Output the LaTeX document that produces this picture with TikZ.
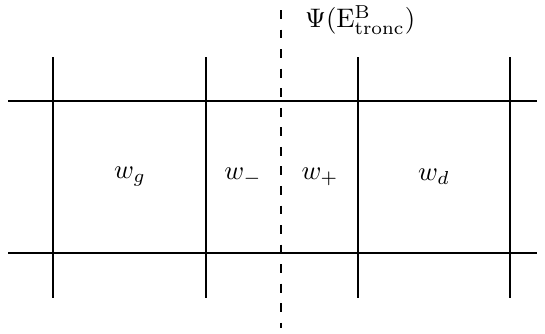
\documentclass[tikz,border=0pt]{standalone}
\usepackage{amsmath,amssymb}
\usepackage{tikz}
\usetikzlibrary{positioning}
\tikzset{
  grille/.style={line width=0.6pt},
  interface/.style={line width=0.7pt, dash pattern=on 3.3pt off 4pt},
  lbl/.style={font=\normalsize, inner sep=1pt}
}

\begin{document}
\begin{tikzpicture}[x=0.013115cm, y=-0.013115cm]
  \useasboundingbox (0,0) rectangle (545,333);

  % horizontal lines
  \draw[grille] (8,101) -- (537,101);
  \draw[grille] (8,253) -- (537,253);

  % vertical lines
  \foreach \xx in {53,206,358,510}
    \draw[grille] (\xx,57) -- (\xx,298);

  % interface
  \coordinate (haut) at (281,10);
  \coordinate (bas) at (281,328);
  \draw[interface] (haut) -- (bas);

  \node[lbl, anchor=west] (psi) at (302,20) {$\Psi(\mathrm{E}^{\mathrm{B}}_{\mathrm{tronc}})$};

  % cell values
  \node[lbl] (wg) at (130,177) {$w_g$};
  \node[lbl] (wm) at (243,177) {$w_-$};
  \node[lbl] (wp) at (320,177) {$w_+$};
  \node[lbl] (wd) at (434,177) {$w_d$};
\end{tikzpicture}
\end{document}
